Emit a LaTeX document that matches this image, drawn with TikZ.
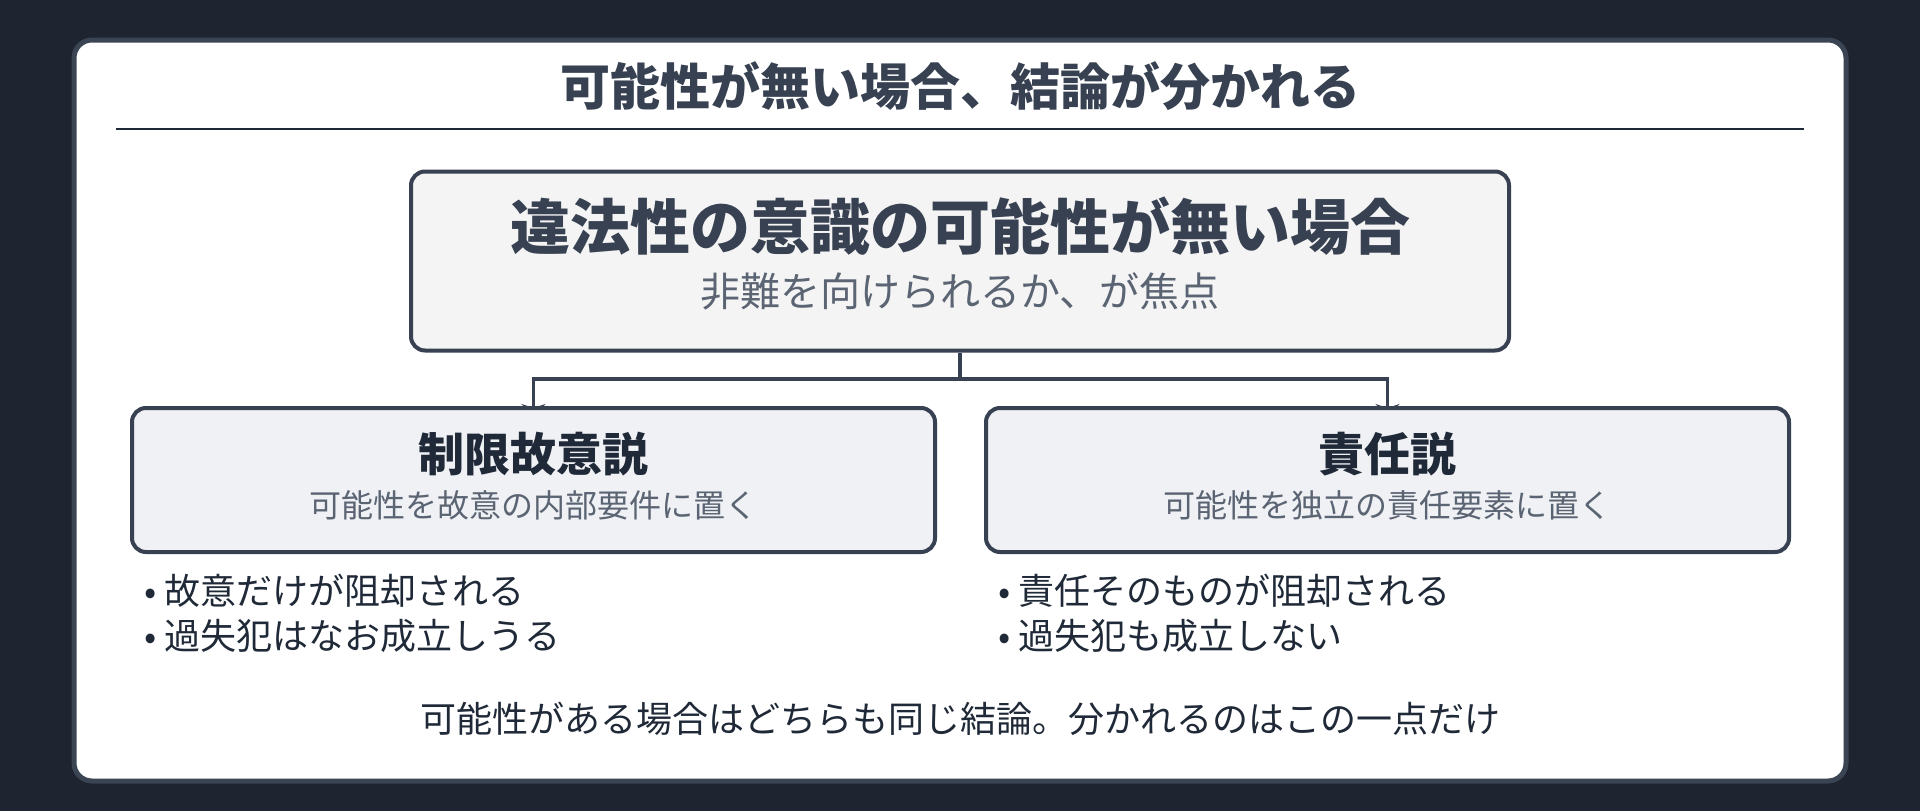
\documentclass[tikz,border=0pt]{standalone}
\usepackage{fontspec}
\setmainfont{Noto Sans CJK JP}
\usepackage{tikz}
\usetikzlibrary{positioning,arrows.meta}
\pgfdeclarelayer{back}
\pgfdeclarelayer{wires}
\pgfsetlayers{back,wires,main}
\definecolor{bg}{HTML}{1E2530}
\definecolor{frame}{HTML}{3B4452}
\definecolor{ink}{HTML}{374151}
\definecolor{dark}{HTML}{1F2937}
\definecolor{soft}{HTML}{5B6472}
\definecolor{topfill}{HTML}{F4F4F5}
\definecolor{sidefill}{HTML}{EFF1F5}
\tikzset{node distance=2cm, auto,
  box/.style={draw=ink, line width=4pt, rounded corners=14pt, inner sep=0pt},
  big/.style={font=\fontsize{#1}{#1}\selectfont\bfseries, inner sep=0pt},
  small/.style={font=\fontsize{#1}{#1}\selectfont, inner sep=0pt},
  link/.style={draw=ink, line width=3.5pt, -{Stealth[length=12pt,width=24pt]}, shorten >=-10pt}}

\begin{document}
\begin{tikzpicture}[x=1pt,y=-1pt]
      \begin{pgfonlayer}{back}
      \fill[bg] (0,0) rectangle (1920,811);
      \draw[frame, fill=white, line width=5pt, rounded corners=18pt] (74,40) rectangle (1846,781);
      \end{pgfonlayer}
      \useasboundingbox (0,0) rectangle (1920,811);
      \node[big=50, text=ink] (H) at (960,86) {可能性が無い場合、結論が分かれる};
      \draw[dark, line width=2.5pt] (116,129) -- (1804,129);

      \node[box, fill=topfill, minimum width=1098pt, minimum height=179pt] (T) at (960,261) {};
      \node[big=60, text=ink] (TT) at (960,226) {違法性の意識の可能性が無い場合};
      \node[small=40, text=soft] (TS) at (960,291) {非難を向けられるか、が焦点};

      \node[box, fill=sidefill, minimum width=803pt, minimum height=144pt] (L) at (533.5,480) {};
      \node[big=46, text=dark] (LT) at (533.5,454) {制限故意説};
      \node[small=32, text=soft] (LS) at (533.5,505) {可能性を故意の内部要件に置く};

      \node[box, fill=sidefill, minimum width=803pt, minimum height=144pt] (R) at (1387.5,480) {};
      \node[big=46, text=dark] (RT) at (1387.5,454) {責任説};
      \node[small=32, text=soft] (RS) at (1387.5,505) {可能性を独立の責任要素に置く};

      \coordinate (J) at (960,379);
      \begin{pgfonlayer}{wires}
      \draw[draw=ink, line width=3.5pt] (T.south) -- (J);
      \draw[link] (J) -| (L.north);
      \draw[link] (J) -| (R.north);
      \end{pgfonlayer}

      \node[small=36, text=dark, anchor=west] (L1) at (144,591) {• 故意だけが阻却される};
      \node[small=36, text=dark, anchor=west] (L2) [below=11pt of L1.south west, anchor=north west] {• 過失犯はなお成立しうる};
      \node[small=36, text=dark, anchor=west] (R1) at (998,591) {• 責任そのものが阻却される};
      \node[small=36, text=dark, anchor=west] (R2) [below=11pt of R1.south west, anchor=north west] {• 過失犯も成立しない};

      \node[small=36, text=dark] (B) at (960,719) {可能性がある場合はどちらも同じ結論。分かれるのはこの一点だけ};
    \end{tikzpicture}
\end{document}
